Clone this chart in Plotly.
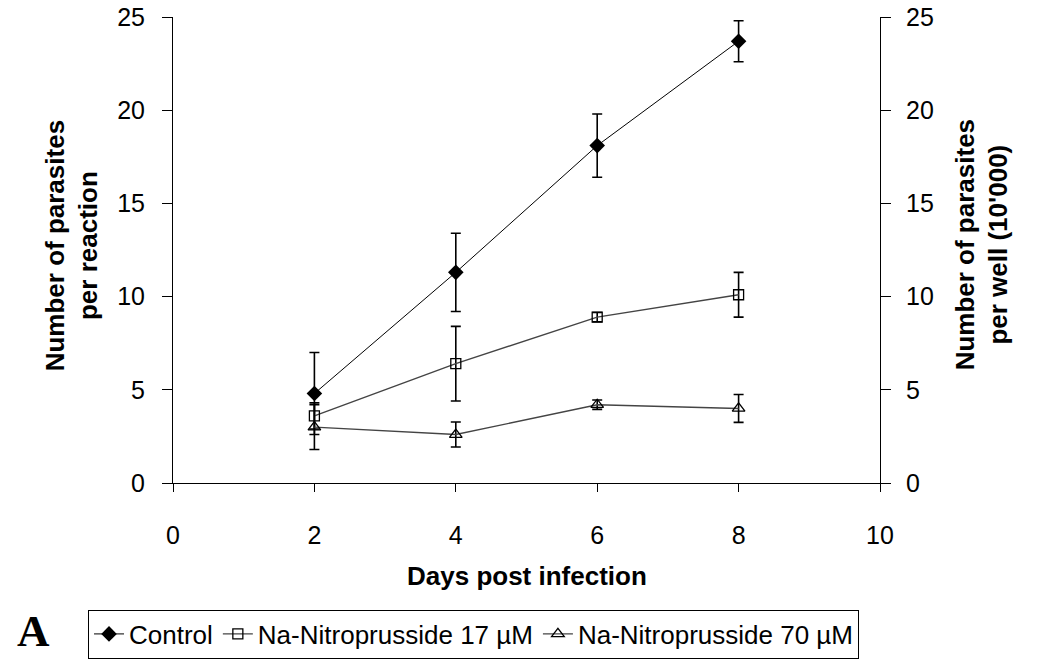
import plotly.graph_objects as go

days = [2, 4, 6, 8]
control = [4.8, 11.3, 18.1, 23.7]
control_err = [2.2, 2.1, 1.7, 1.1]
np17 = [3.6, 6.4, 8.9, 10.1]
np17_err = [0.7, 2.0, 0.25, 1.2]
np70 = [3.0, 2.6, 4.2, 4.0]
np70_err = [1.2, 0.67, 0.25, 0.75]

x_ticks = [0, 2, 4, 6, 8, 10]
y_ticks = [0, 5, 10, 15, 20, 25]

FONT = "Liberation Sans, Arial, sans-serif"

fig = go.Figure()

def err(vals):
    return dict(type="data", array=vals, visible=True, color="black", thickness=1.6, width=5)

fig.add_trace(go.Scatter(
    x=days, y=control, name="Control", mode="lines+markers",
    line=dict(color="black", width=1),
    marker=dict(symbol="diamond", size=12, color="black"),
    error_y=err(control_err)))
fig.add_trace(go.Scatter(
    x=days, y=np17, name="Na-Nitroprusside 17 µM", mode="lines+markers",
    line=dict(color="#444444", width=1.4),
    marker=dict(symbol="square-open", size=10, color="black", line=dict(width=1.3)),
    error_y=err(np17_err)))
fig.add_trace(go.Scatter(
    x=days, y=np70, name="Na-Nitroprusside 70 µM", mode="lines+markers",
    line=dict(color="#444444", width=1.4),
    marker=dict(symbol="triangle-up-open", size=11, color="black", line=dict(width=1.3)),
    error_y=err(np70_err)))
# invisible carrier trace so the right-hand axis is drawn
fig.add_trace(go.Scatter(
    x=days, y=control, yaxis="y2", mode="lines", line=dict(color="rgba(0,0,0,0)", width=0),
    showlegend=False, hoverinfo="skip"))

fig.update_layout(
    width=1051, height=661,
    margin=dict(l=173, r=171, t=17, b=178, autoexpand=False),
    paper_bgcolor="white", plot_bgcolor="white",
    font=dict(family=FONT, size=25, color="black"),
    showlegend=True,
    legend=dict(orientation="h", x=-0.1202, xanchor="left", y=-0.2715, yanchor="top",
                bordercolor="black", borderwidth=1, font=dict(size=26, family=FONT),
                itemwidth=30, tracegroupgap=0, bgcolor="white"),
    xaxis=dict(range=[0, 10], tickvals=x_ticks, ticks="outside", ticklen=8, tickcolor="black",
               showline=True, linecolor="black", linewidth=1, showgrid=False, zeroline=False,
               ticklabelstandoff=22, tickfont=dict(size=25)),
    yaxis=dict(range=[0, 25], tickvals=y_ticks, ticks="outside", ticklen=10, tickcolor="black",
               showline=True, linecolor="black", linewidth=1, showgrid=False, zeroline=False,
               ticklabelstandoff=12, tickfont=dict(size=25)),
    yaxis2=dict(range=[0, 25], tickvals=y_ticks, ticks="outside", ticklen=10, tickcolor="black",
                overlaying="y", side="right", anchor="x",
                showline=True, linecolor="black", linewidth=1, showgrid=False, zeroline=False,
                ticklabelstandoff=10, tickfont=dict(size=25)),
    annotations=[
        dict(text="<b>Number of parasites<br>per reaction</b>", xref="paper", yref="paper",
             x=-0.1429, y=0.51, xanchor="center", yanchor="middle", textangle=-90,
             showarrow=False, font=dict(size=26, family=FONT)),
        dict(text="<b>Number of parasites<br>per well (10'000)</b>", xref="paper", yref="paper",
             x=1.1443, y=0.51, xanchor="center", yanchor="middle", textangle=-90,
             showarrow=False, font=dict(size=26, family=FONT)),
        dict(text="<b>Days post infection</b>", xref="paper", yref="paper",
             x=0.5, y=-0.2, xanchor="center", yanchor="middle",
             showarrow=False, font=dict(size=26, family=FONT)),
        dict(text="<b>A</b>", xref="paper", yref="paper",
             x=-0.198, y=-0.3176, xanchor="center", yanchor="middle",
             showarrow=False, font=dict(size=45, family="Liberation Serif, Times New Roman, serif")),
    ],
)

fig.write_html("out.html", post_script="document.body.style.margin='0px';",
               config={"displayModeBar": False})
